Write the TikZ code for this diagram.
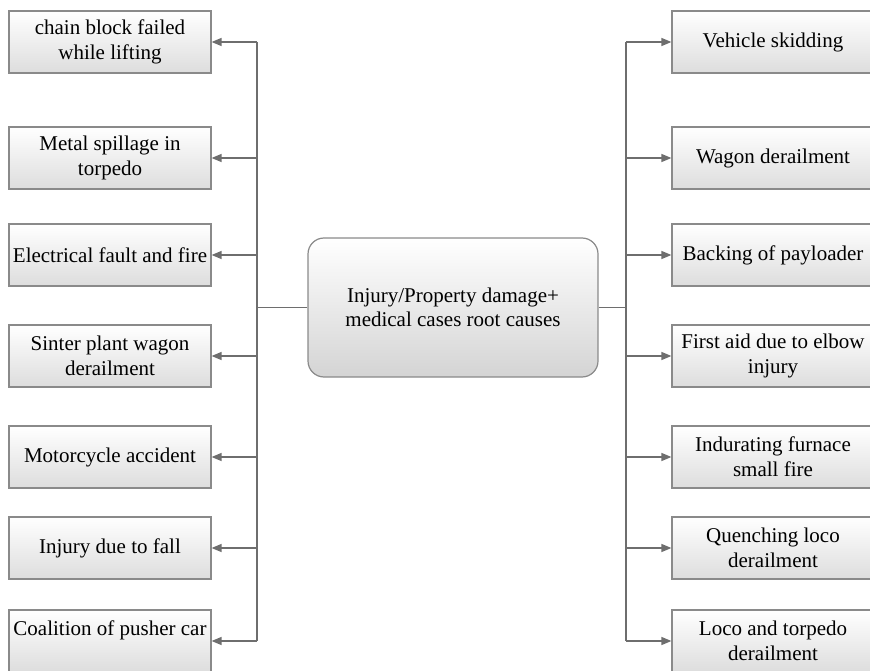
\documentclass[tikz,border=0pt]{standalone}
\usepackage{fontspec}
\setmainfont{Liberation Serif}
\usetikzlibrary{arrows.meta, positioning}
\definecolor{linegray}{HTML}{6E6E6E}
\definecolor{boxedge}{HTML}{8A8A8A}
\definecolor{boxfoot}{HTML}{DDDDDD}
\definecolor{hubfoot}{HTML}{D4D4D4}

\tikzset{
  cause/.style={draw=boxedge, line width=1.2pt, top color=white, bottom color=boxfoot,
    minimum width=202pt, minimum height=62pt, inner sep=0pt, align=center,
    font=\fontsize{21}{25}\selectfont},
  hub/.style={draw=boxedge, line width=1.2pt, top color=white, bottom color=hubfoot,
    rounded corners=16pt, minimum width=290pt, minimum height=139pt, inner sep=0pt,
    align=center, font=\fontsize{21}{24}\selectfont},
  link/.style={draw=linegray, line width=1.4pt},
  tip/.style={link, -{Triangle[length=10pt, width=8pt]}}
}

\begin{document}
\begin{tikzpicture}[x=1pt, y=-1pt]
  \clip (0,0) rectangle (870,671);

  % Central node
  \node[hub] (root) at (453,307.5) {Injury/Property damage+\\medical cases root causes};

  % Left column of causes
  \node[cause] (l1) at (110,42)  {chain block failed\\while lifting};
  \node[cause] (l2) at (110,158) {Metal spillage in\\torpedo};
  \node[cause] (l3) at (110,255) {Electrical fault and fire};
  \node[cause] (l4) at (110,356) {Sinter plant wagon\\derailment};
  \node[cause] (l5) at (110,457) {Motorcycle accident};
  \node[cause] (l6) at (110,548) {Injury due to fall};
  \node[cause] (l7) at (110,641) {Coalition of pusher car\\\mbox{}};

  % Right column of causes
  \node[cause] (r1) at (773,42)  {Vehicle skidding};
  \node[cause] (r2) at (773,158) {Wagon derailment};
  \node[cause] (r3) at (773,255) {Backing of payloader};
  \node[cause] (r4) at (773,356) {First aid due to elbow\\injury};
  \node[cause] (r5) at (773,457) {Indurating furnace\\small fire};
  \node[cause] (r6) at (773,548) {Quenching loco\\derailment};
  \node[cause] (r7) at (773,641) {Loco and torpedo\\derailment};

  % Bus lines
  \coordinate (lbus) at (257,307.5);
  \coordinate (rbus) at (626,307.5);
  \draw[link] (root.west) -- (lbus);
  \draw[link] (root.east) -- (rbus);
  \draw[link] (lbus |- l1) -- (lbus |- l7);
  \draw[link] (rbus |- r1) -- (rbus |- r7);

  % Arrows to the boxes
  \foreach \n in {l1,l2,l3,l4,l5,l6,l7}
    \draw[tip] (lbus |- \n) -- (\n.east);
  \foreach \n in {r1,r2,r3,r4,r5,r6,r7}
    \draw[tip] (rbus |- \n) -- (\n.west);
\end{tikzpicture}
\end{document}
